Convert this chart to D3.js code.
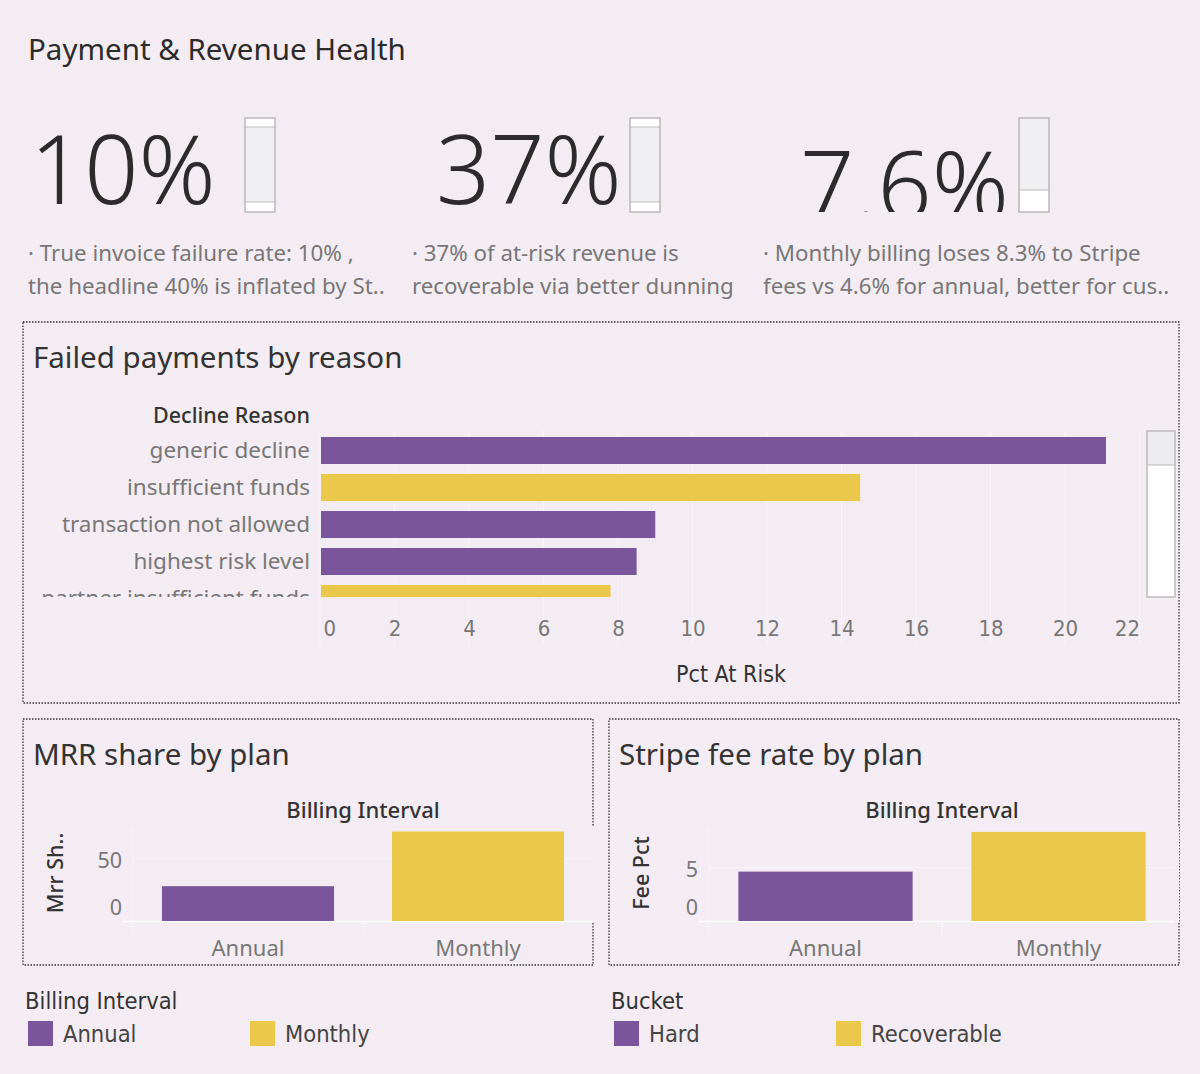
<!DOCTYPE html>
<html>
<head>
<meta charset="utf-8">
<script src="https://cdn.jsdelivr.net/npm/d3@7"></script>
<style>
  body { margin: 0; background: #f3ecf2; }
  svg { display: block; font-family: "Noto Sans", "Open Sans", sans-serif; }
  .narrow { font-family: "Liberation Sans Narrow", "DejaVu Sans Condensed", "Noto Sans", sans-serif; }
</style>
</head>
<body>
<div id="dash"></div>
<script>
// Dashboard size
const WIDTH = 1200;
const HEIGHT = 1074;

const BG = "#f3ecf2";
const PURPLE = "#7b559b";
const YELLOW = "#ecc84a";
const DARK = "#2b2b2b";
const GREY = "#777";

// KPI data
const kpiValues = ["10%", "37%", "7.6%"];
const kpiNotes = [
  ["· True invoice failure rate: 10% ,", "the headline 40% is inflated by St.."],
  ["· 37% of at-risk revenue is", "recoverable via better dunning"],
  ["· Monthly billing loses 8.3% to Stripe", "fees vs 4.6% for annual, better for cus.."],
];

// Failed payments by reason
const reasons = [
  "generic decline",
  "insufficient funds",
  "transaction not allowed",
  "highest risk level",
  "partner insufficient funds",
];
const reasonPct = [21.1, 14.5, 9.0, 8.5, 7.8];
const reasonBucket = ["Hard", "Recoverable", "Hard", "Hard", "Recoverable"];
const pctTicks = [0, 2, 4, 6, 8, 10, 12, 14, 16, 18, 20, 22];

// Plan charts
const plans = ["Annual", "Monthly"];
const mrrShare = [28, 72];
const mrrTicks = [0, 50];
const feePct = [4.6, 8.3];
const feeTicks = [0, 5];

// Legends
const buckets = ["Hard", "Recoverable"];

const planColor = d3.scaleOrdinal().domain(plans).range([PURPLE, YELLOW]);
const bucketColor = d3.scaleOrdinal().domain(buckets).range([PURPLE, YELLOW]);

var svg = d3
  .select("#dash")
  .append("svg")
  .attr("width", WIDTH)
  .attr("height", HEIGHT);

svg.append("rect").attr("width", WIDTH).attr("height", HEIGHT).attr("fill", BG);

var defs = svg.append("defs");

// Title
svg
  .append("text")
  .attr("x", 28)
  .attr("y", 60)
  .attr("font-size", 29.5)
  .attr("fill", DARK)
  .text("Payment & Revenue Health");

// ---- KPI row ----
const kpiX = [30, 436, 800];
const noteX = [28, 412, 763];
const kpiBox = [245, 630, 1019];

kpiValues.forEach(function (v, i) {
  // the number sits in its own viewport so the third one gets cut off at the bottom
  var vp = svg
    .append("svg")
    .attr("x", 0)
    .attr("y", 90)
    .attr("width", WIDTH)
    .attr("height", 122)
    .attr("overflow", "hidden");
  vp.append("text")
    .attr("x", kpiX[i])
    .attr("y", i === 2 ? 130 : 114)
    .attr("font-size", 95)
    .attr("font-weight", 300)
    .attr("fill", DARK)
    .text(v);

  kpiNotes[i].forEach(function (line, j) {
    svg
      .append("text")
      .attr("x", noteX[i])
      .attr("y", 261 + j * 33)
      .attr("font-size", 22.3)
      .attr("fill", GREY)
      .text(line);
  });

  // little scroll indicator next to each number
  var g = svg.append("g").attr("transform", "translate(" + kpiBox[i] + ",118)");
  g.append("rect").attr("width", 30).attr("height", 94).attr("fill", "#efeef1");
  if (i < 2) {
    g.append("rect").attr("width", 30).attr("height", 9).attr("fill", "#fff");
    g.append("rect").attr("y", 84).attr("width", 30).attr("height", 10).attr("fill", "#fff");
    g.append("line").attr("x1", 0).attr("x2", 30).attr("y1", 9).attr("y2", 9).attr("stroke", "#bbb");
    g.append("line").attr("x1", 0).attr("x2", 30).attr("y1", 84).attr("y2", 84).attr("stroke", "#bbb");
  } else {
    g.append("rect").attr("y", 72).attr("width", 30).attr("height", 22).attr("fill", "#fff");
    g.append("line").attr("x1", 0).attr("x2", 30).attr("y1", 72).attr("y2", 72).attr("stroke", "#bbb");
  }
  g.append("rect")
    .attr("width", 30)
    .attr("height", 94)
    .attr("fill", "none")
    .attr("stroke", "#b8b8b8")
    .attr("stroke-width", 1.5);
});

// dotted panel frame
function panel(x, y, w, h) {
  svg
    .append("rect")
    .attr("x", x)
    .attr("y", y)
    .attr("width", w)
    .attr("height", h)
    .attr("fill", "none")
    .attr("stroke", "#333")
    .attr("stroke-width", 1.3)
    .attr("stroke-dasharray", "1.5,1.5");
}

// ---- Failed payments by reason ----
panel(23, 322, 1156, 381);

svg
  .append("text")
  .attr("x", 33)
  .attr("y", 368)
  .attr("font-size", 29.5)
  .attr("fill", "#333")
  .text("Failed payments by reason");

var x = d3.scaleLinear().domain([0, 22]).range([320, 1139.5]);
var y = d3
  .scaleBand()
  .domain(reasons)
  .range([432, 617])
  .paddingInner(0.27)
  .paddingOuter(0.135);

// faint vertical gridlines
svg
  .append("g")
  .selectAll("line")
  .data(pctTicks)
  .join("line")
  .attr("x1", (d) => x(d))
  .attr("x2", (d) => x(d))
  .attr("y1", 430)
  .attr("y2", 645)
  .attr("stroke", "#fff")
  .attr("stroke-opacity", 0.45);

svg
  .append("text")
  .attr("x", 310)
  .attr("y", 423)
  .attr("text-anchor", "end")
  .attr("font-size", 21.5)
  .attr("font-weight", 500)
  .attr("fill", "#333")
  .text("Decline Reason");

defs
  .append("clipPath")
  .attr("id", "barClip")
  .append("rect")
  .attr("x", 24)
  .attr("y", 430)
  .attr("width", 1120)
  .attr("height", 167);

var rows = svg.append("g").attr("clip-path", "url(#barClip)");

rows
  .selectAll("rect")
  .data(reasons)
  .join("rect")
  .attr("x", x(0) + 1)
  .attr("y", (d) => y(d))
  .attr("width", (d, i) => x(reasonPct[i]) - x(0) - 1)
  .attr("height", y.bandwidth())
  .attr("fill", (d, i) => bucketColor(reasonBucket[i]));

rows
  .selectAll("text")
  .data(reasons)
  .join("text")
  .attr("x", 310)
  .attr("y", (d) => y(d) + y.bandwidth() / 2)
  .attr("dy", "0.35em")
  .attr("text-anchor", "end")
  .attr("font-size", 22.5)
  .attr("fill", GREY)
  .text((d) => d);

// x axis
svg
  .append("g")
  .attr("transform", "translate(0,628)")
  .call(d3.axisBottom(x).tickValues(pctTicks).tickSize(0).tickPadding(0))
  .call((g) => g.select(".domain").remove())
  .call((g) =>
    g
      .selectAll(".tick text")
      .attr("class", "narrow")
      .attr("font-size", 22)
      .attr("fill", GREY)
      .attr("dy", "0.35em")
      .attr("text-anchor", (d, i) => (i === 0 ? "start" : i === pctTicks.length - 1 ? "end" : "middle"))
      .attr("x", (d, i) => (i === 0 ? 3 : 0))
  );

svg
  .append("text")
  .attr("class", "narrow")
  .attr("x", 731)
  .attr("y", 682)
  .attr("text-anchor", "middle")
  .attr("font-size", 23)
  .attr("fill", "#333")
  .text("Pct At Risk");

// scroll bar
var sb = svg.append("g").attr("transform", "translate(1147,431)");
sb.append("rect").attr("width", 28).attr("height", 166).attr("fill", "#fff");
sb.append("rect").attr("width", 28).attr("height", 34).attr("fill", "#ededf0");
sb.append("line").attr("x1", 0).attr("x2", 28).attr("y1", 34).attr("y2", 34).attr("stroke", "#bbb");
sb.append("rect")
  .attr("width", 28)
  .attr("height", 166)
  .attr("fill", "none")
  .attr("stroke", "#bbb")
  .attr("stroke-width", 1.5);

// ---- small plan charts ----
function planChart(opt) {
  panel(opt.px, 719, 570, 246);

  svg
    .append("text")
    .attr("x", opt.px + 10)
    .attr("y", 765)
    .attr("font-size", 29.5)
    .attr("fill", "#333")
    .text(opt.title);

  var bx = d3
    .scaleBand()
    .domain(plans)
    .range(opt.range)
    .paddingInner(0.252)
    .paddingOuter(0.126);
  var by = d3.scaleLinear().domain([0, opt.max]).range([921, 829]);

  // plot background hides the frame where the plot runs over it
  svg
    .append("rect")
    .attr("x", opt.range[0])
    .attr("y", 827)
    .attr("width", opt.range[1] - opt.range[0] + 4)
    .attr("height", 96)
    .attr("fill", BG);

  svg
    .append("text")
    .attr("x", (opt.range[0] + opt.range[1]) / 2)
    .attr("y", 818)
    .attr("text-anchor", "middle")
    .attr("font-size", 22)
    .attr("font-weight", 500)
    .attr("fill", "#333")
    .text("Billing Interval");

  // gridlines + frame lines
  var grid = svg.append("g").attr("stroke", "#fff").attr("stroke-opacity", 0.6);
  grid
    .selectAll("line.h")
    .data(opt.ticks.filter((d) => d > 0))
    .join("line")
    .attr("x1", opt.range[0])
    .attr("x2", opt.range[1])
    .attr("y1", (d) => by(d))
    .attr("y2", (d) => by(d));
  grid
    .append("line")
    .attr("x1", opt.range[0] - 10)
    .attr("x2", opt.range[1])
    .attr("y1", by(0) + 0.5)
    .attr("y2", by(0) + 0.5)
    .attr("stroke-opacity", 1)
    .attr("stroke-width", 1.5);
  grid
    .selectAll("line.v")
    .data([opt.range[0], bx.step() + opt.range[0]])
    .join("line")
    .attr("x1", (d) => d)
    .attr("x2", (d) => d)
    .attr("y1", (d, i) => (i === 0 ? 829 : 921))
    .attr("y2", 935);

  svg
    .append("g")
    .selectAll("rect")
    .data(plans)
    .join("rect")
    .attr("x", (d) => bx(d))
    .attr("y", (d, i) => by(opt.values[i]))
    .attr("width", bx.bandwidth())
    .attr("height", (d, i) => by(0) - by(opt.values[i]))
    .attr("fill", (d) => planColor(d));

  // y axis labels (0 is nudged up like the reference)
  svg
    .append("g")
    .selectAll("text")
    .data(opt.ticks)
    .join("text")
    .attr("x", opt.range[0] - 11)
    .attr("y", (d) => by(d) - (d === 0 ? 14 : -2))
    .attr("dy", "0.35em")
    .attr("text-anchor", "end")
    .attr("font-size", 21.5)
    .attr("fill", GREY)
    .text((d) => d);

  svg
    .append("text")
    .attr("transform", "translate(" + opt.ax + ",873) rotate(-90)")
    .attr("text-anchor", "middle")
    .attr("dy", "0.35em")
    .attr("font-size", 21.5)
    .attr("font-weight", 500)
    .attr("fill", "#333")
    .text(opt.axisTitle);

  svg
    .append("g")
    .selectAll("text")
    .data(plans)
    .join("text")
    .attr("x", (d) => bx(d) + bx.bandwidth() / 2)
    .attr("y", 956)
    .attr("text-anchor", "middle")
    .attr("font-size", 22)
    .attr("fill", GREY)
    .text((d) => d);
}

planChart({
  px: 23,
  title: "MRR share by plan",
  range: [133, 593],
  max: 74,
  ticks: mrrTicks,
  values: mrrShare,
  axisTitle: "Mrr Sh..",
  ax: 55,
});

planChart({
  px: 609,
  title: "Stripe fee rate by plan",
  range: [709, 1175],
  max: 8.57,
  ticks: feeTicks,
  values: feePct,
  axisTitle: "Fee Pct",
  ax: 641,
});

// ---- legends ----
function legend(x0, title, items, color) {
  svg
    .append("text")
    .attr("class", "narrow")
    .attr("x", x0)
    .attr("y", 1009)
    .attr("font-size", 23.5)
    .attr("fill", "#333")
    .text(title);

  var g = svg
    .append("g")
    .selectAll("g")
    .data(items)
    .join("g")
    .attr("transform", (d, i) => "translate(" + (x0 + 3 + i * 222) + ",1021)");
  g.append("rect").attr("width", 25).attr("height", 25).attr("fill", (d) => color(d));
  g.append("text")
    .attr("class", "narrow")
    .attr("x", 35)
    .attr("y", 13)
    .attr("dy", "0.35em")
    .attr("font-size", 23.5)
    .attr("fill", "#444")
    .text((d) => d);
}

legend(25, "Billing Interval", plans, planColor);
legend(611, "Bucket", buckets, bucketColor);
</script>
</body>
</html>
